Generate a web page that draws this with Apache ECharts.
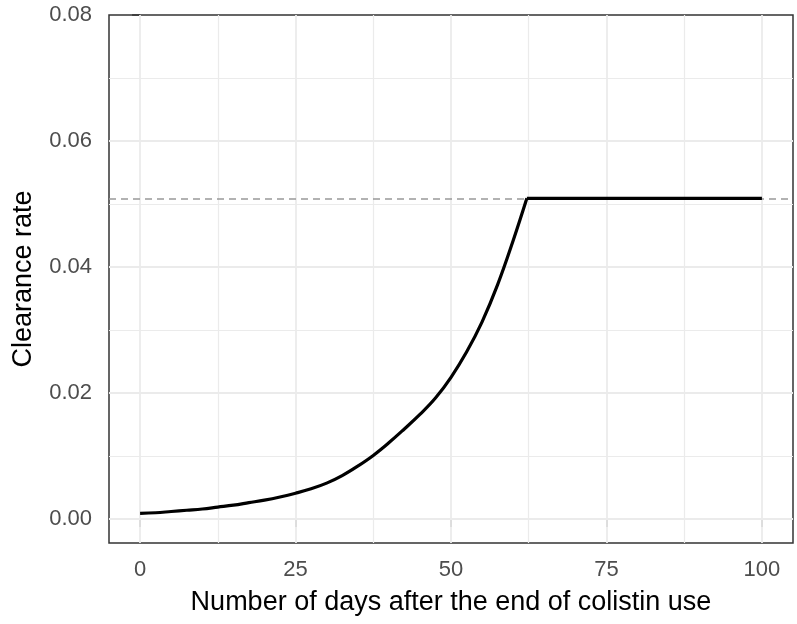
<!DOCTYPE html>
<html>
<head>
<meta charset="utf-8">
<script src="https://cdn.jsdelivr.net/npm/echarts@6/dist/echarts.min.js"></script>
<style>
  html, body { margin: 0; padding: 0; background: #fff; }
  #main { width: 797px; height: 624px; }
</style>
</head>
<body>
<div id="main"></div>
<script>
// values (every 2.5 days up to the kink)
var days = [0, 2.5, 5, 7.5, 10, 12.5, 15, 17.5, 20, 22.5, 25, 27.5, 30, 32.5, 35, 37.5, 40, 42.5, 45, 47.5, 50, 52.5, 55, 57.5, 60, 62.2];
var rate = [0.0009, 0.0010, 0.0012, 0.0014, 0.0016, 0.0019, 0.0022, 0.0026, 0.0030, 0.0035, 0.0041, 0.0048, 0.0057, 0.0069, 0.0084, 0.0101, 0.0121, 0.0143, 0.0166, 0.0192, 0.0225, 0.0265, 0.0313, 0.0372, 0.0442, 0.0509];
var plateauDays = [62.2, 100];
var plateauRate = [0.0509, 0.0509];
var threshold = 0.0509;

var xTicks = [0, 25, 50, 75, 100];
var yTicks = [0, 0.02, 0.04, 0.06, 0.08];
var xMinor = [12.5, 37.5, 62.5, 87.5];
var yMinor = [0.01, 0.03, 0.05, 0.07];

function pairs(xs, ys) {
  var out = [];
  for (var i = 0; i < xs.length; i++) out.push([xs[i], ys[i]]);
  return out;
}

// panel grid (the top major line sits under the border, so it is left out)
var gridLines = [];
xMinor.forEach(function (v) { gridLines.push({ xAxis: v, lineStyle: { width: 1.2 } }); });
yMinor.forEach(function (v) { gridLines.push({ yAxis: v, lineStyle: { width: 1.2 } }); });
xTicks.forEach(function (v) { gridLines.push({ xAxis: v, lineStyle: { width: 1.8 } }); });
yTicks.slice(0, -1).forEach(function (v) { gridLines.push({ yAxis: v, lineStyle: { width: 1.8 } }); });

var font = 'Liberation Sans, Arial, sans-serif';
var myChart = echarts.init(document.getElementById('main'));

var option = {
  animation: false,
  backgroundColor: '#fff',
  grid: {
    left: 109, top: 15, right: 4, bottom: 81,
    show: true,
    borderColor: '#333',
    borderWidth: 1.5,
    backgroundColor: '#fff'
  },
  xAxis: {
    type: 'value',
    min: -5, max: 105,
    name: 'Number of days after the end of colistin use',
    nameLocation: 'middle',
    nameGap: 46,
    nameTextStyle: { color: '#000', fontSize: 27, fontFamily: font },
    axisLine: { show: false },
    axisTick: { show: true, customValues: xTicks, length: 8, lineStyle: { color: '#333', width: 1.5 } },
    axisLabel: { customValues: xTicks, color: '#4d4d4d', fontSize: 22, fontFamily: font, margin: 16 },
    splitLine: { show: false }
  },
  yAxis: {
    type: 'value',
    min: -0.0038, max: 0.08,
    name: 'Clearance rate',
    nameLocation: 'middle',
    nameGap: 72,
    nameTextStyle: { color: '#000', fontSize: 27, fontFamily: font },
    axisLine: { show: false },
    axisTick: { show: true, customValues: yTicks, length: 8, lineStyle: { color: '#333', width: 1.5 } },
    axisLabel: {
      customValues: yTicks, color: '#4d4d4d', fontSize: 22, fontFamily: font, margin: 17,
      formatter: function (v) { return v.toFixed(2); }
    },
    splitLine: { show: false }
  },
  series: [
    {
      name: 'grid',
      type: 'line',
      data: [],
      silent: true,
      markLine: {
        z: 1,
        silent: true,
        precision: 6,
        symbol: 'none',
        label: { show: false },
        lineStyle: { color: '#ebebeb', type: 'solid' },
        data: gridLines
      }
    },
    {
      name: 'threshold',
      type: 'line',
      data: [],
      markLine: {
        z: 2,
        silent: true,
        precision: 6,
        symbol: 'none',
        label: { show: false },
        lineStyle: { color: '#999', type: [7, 5], width: 1.5 },
        data: [{ yAxis: threshold }]
      }
    },
    {
      name: 'rate',
      type: 'line',
      z: 10,
      smooth: 0.4,
      showSymbol: false,
      lineStyle: { color: '#000', width: 3.2 },
      data: pairs(days, rate)
    },
    {
      name: 'plateau',
      type: 'line',
      z: 10,
      showSymbol: false,
      lineStyle: { color: '#000', width: 3.2 },
      data: pairs(plateauDays, plateauRate)
    }
  ]
};

myChart.setOption(option);
</script>
</body>
</html>
